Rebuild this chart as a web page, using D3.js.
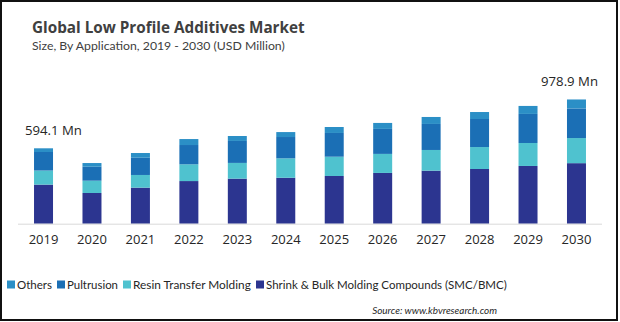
<!DOCTYPE html>
<html><head><meta charset="utf-8">
<script src="https://cdn.jsdelivr.net/npm/d3@7"></script>
<style>body{margin:0;background:#fff}svg{display:block}</style>
</head><body><svg id="c" width="620" height="322"></svg>
<script>
const years = ["2019","2020","2021","2022","2023","2024","2025","2026","2027","2028","2029","2030"];
const seriesNames = ["Shrink & Bulk Molding Compounds (SMC/BMC)","Resin Transfer Molding","Pultrusion","Others"];
const smc = [308,242,284,336,355,362,376,400,418,431,455,477];
const rtm = [111,97,100,132,124,153,152,150,163,173,181,198];
const pultrusion = [146,110,136,152,173,168,187,197,205,221,229,233];
const others = [29.1,29,37,47,39,39,47,47,55,55,63,70.9];
const colors = ["#2c3590","#4fc2cf","#1b6fb5","#2b8fc6"];
const legendOrder = [3,2,1,0];
const title = "Global Low Profile Additives Market";
const subtitle = "Size, By Application, 2019 - 2030 (USD Million)";
const annotations = [{i:0,text:"594.1 Mn"},{i:11,text:"978.9 Mn"}];

const svg = d3.select("#c");
const font = "'Open Sans', sans-serif";
const font2 = "Lato, sans-serif";
const font3 = "'Liberation Sans Narrow', 'Arial Narrow', Lato, sans-serif";
function fit(t, w){
  const fs = +t.attr("font-size");
  const len = t.node().getComputedTextLength();
  t.attr("font-size", fs*w/len);
  return t;
}
svg.append("rect").attr("x",1).attr("y",1).attr("width",616).attr("height",319)
  .attr("fill","#fff").attr("stroke","#111").attr("stroke-width",2);

fit(svg.append("text").attr("x",32).attr("y",33).text(title)
  .attr("font-family",font).attr("font-weight","bold").attr("font-size",16).attr("fill","#404040"),273);
fit(svg.append("text").attr("x",32).attr("y",50).text(subtitle)
  .attr("font-family",font2).attr("font-size",12).attr("fill","#404040"),253);

const data = years.map((y,i)=>({year:y, s0:smc[i], s1:rtm[i], s2:pultrusion[i], s3:others[i]}));
const stack = d3.stack().keys(["s0","s1","s2","s3"])(data);

const x = d3.scaleBand().domain(years).range([19.3,600.7]).paddingInner(0.608).paddingOuter(0.304);
const y = d3.scaleLinear().domain([0,1000]).range([223.7,223.7-1000/7.88]);

const g = svg.append("g");
stack.forEach((layer,k)=>{
  g.selectAll(null).data(layer).enter().append("rect")
   .attr("x",d=>x(d.data.year)).attr("width",x.bandwidth())
   .attr("y",d=>y(d[1])).attr("height",d=>y(d[0])-y(d[1]))
   .attr("fill",colors[k]);
});

svg.append("line").attr("x1",18).attr("x2",602).attr("y1",224.2).attr("y2",224.2)
  .attr("stroke","#d9d9d9").attr("stroke-width",1);

const xa = svg.append("g").attr("transform","translate(0,224)")
  .call(d3.axisBottom(x).tickSize(0).tickPadding(11));
xa.select(".domain").remove();
xa.selectAll("text").attr("font-family",font).attr("font-size",13).attr("fill","#262626");

annotations.forEach((a,j)=>{
  const tot = smc[a.i]+rtm[a.i]+pultrusion[a.i]+others[a.i];
  const t = svg.append("text")
    .attr("x", j===0 ? x(years[a.i])-9 : x(years[a.i])+x.bandwidth()+12)
    .attr("y",y(tot)-13.5)
    .attr("text-anchor", j===0 ? "start" : "end").text(a.text)
    .attr("font-family",font).attr("font-size",13).attr("fill","#262626");
  fit(t,57);
});

const lg = svg.append("g");
const legendWidths = [35,51,118,241];
let lx = 7;
legendOrder.forEach((k,j)=>{
  lg.append("rect").attr("x",lx).attr("y",280.5).attr("width",8).attr("height",8).attr("fill",colors[k]);
  const t = lg.append("text").attr("x",lx+10).attr("y",289).text(seriesNames[k])
    .attr("font-family",font3).attr("font-size",14).attr("fill","#262626");
  fit(t, legendWidths[j]);
  lx += 10 + legendWidths[j] + 5;
});

fit(svg.append("text").attr("x",497).attr("y",314).attr("text-anchor","end").text("Source: www.kbvresearch.com")
  .attr("font-family",font3).attr("font-style","italic").attr("font-size",11).attr("fill","#262626"),125);
</script></body></html>
